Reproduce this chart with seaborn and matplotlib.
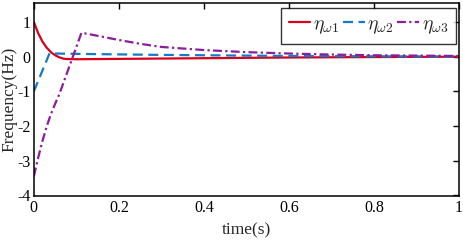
import matplotlib
matplotlib.use("Agg")
import matplotlib.pyplot as plt
import seaborn as sns
import pandas as pd

t_eta1 = [0, 0.01, 0.02, 0.03, 0.04, 0.05, 0.06, 0.07, 0.08, 0.1, 0.15, 0.2, 0.3, 0.4, 0.5, 0.6, 0.7, 0.8, 0.9, 1.0]
v_eta1 = [1.0, 0.68, 0.44, 0.26, 0.13, 0.04, -0.02, -0.06, -0.07, -0.075, -0.07, -0.065, -0.055, -0.045, -0.035, -0.025, -0.018, -0.012, -0.006, -0.002]

t_eta2 = [0, 0.037, 0.05, 0.1, 0.2, 0.3, 0.4, 0.5, 0.6, 0.7, 0.8, 0.9, 1.0]
v_eta2 = [-1.0, 0.1, 0.09, 0.08, 0.065, 0.05, 0.04, 0.03, 0.02, 0.015, 0.01, 0.005, 0.002]

t_eta3 = [0, 0.01, 0.02, 0.03, 0.04, 0.05, 0.06, 0.07, 0.08, 0.09, 0.1, 0.112, 0.15, 0.2, 0.25, 0.3, 0.4, 0.5, 0.6, 0.7, 0.8, 0.9, 1.0]
v_eta3 = [-3.45, -2.92, -2.44, -2.02, -1.66, -1.36, -1.08, -0.74, -0.40, -0.06, 0.28, 0.69, 0.6, 0.48, 0.37, 0.28, 0.19, 0.13, 0.09, 0.06, 0.04, 0.03, 0.02]

labels = [r"$\eta_{\omega 1}$", r"$\eta_{\omega 2}$", r"$\eta_{\omega 3}$"]
colors = ["#D9001B", "#0F7BC9", "#8B1E9A"]
styles = ["-", (0, (4.5, 2.5)), (0, (4, 1.5, 1, 1.5))]
x_ticks = [0, 0.2, 0.4, 0.6, 0.8, 1]
x_ticklabels = ["0", "0.2", "0.4", "0.6", "0.8", "1"]
y_ticks = [-4, -3, -2, -1, 0, 1]

sns.set_style("white")
plt.rcParams["font.family"] = ["Liberation Serif", "DejaVu Serif"]
plt.rcParams["mathtext.fontset"] = "cm"
plt.rcParams["axes.unicode_minus"] = False
plt.rcParams["xtick.direction"] = "in"
plt.rcParams["ytick.direction"] = "in"

fig = plt.figure(figsize=(4.64, 2.4), dpi=100)
ax = fig.add_axes([0.073, 0.183, 0.916, 0.805])

series = [(t_eta1, v_eta1), (t_eta2, v_eta2), (t_eta3, v_eta3)]
for (t, v), lab, c, ls in zip(series, labels, colors, styles):
    df = pd.DataFrame({"t": t, "v": v})
    sns.lineplot(data=df, x="t", y="v", ax=ax, color=c, linestyle=ls,
                 linewidth=1.6, label=lab, estimator=None, sort=False)

ax.set_xlim(0, 1)
ax.set_ylim(-4.02, 1.55)
ax.set_xticks(x_ticks)
ax.set_xticklabels(x_ticklabels)
ax.set_yticks(y_ticks)
ax.tick_params(axis="both", labelsize=11.5, length=4, width=1, top=True, right=True, pad=2.5, colors="black")
ax.set_xlabel("time(s)", fontsize=12.5)
ax.set_ylabel("Frequency(Hz)", fontsize=12.5)
ax.xaxis.set_label_coords(0.5, -0.135)
ax.yaxis.set_label_coords(-0.038, 0.5)
for s in ax.spines.values():
    s.set_color("black")
    s.set_linewidth(1.1)

leg = ax.legend(loc="upper right", ncol=3, fontsize=14, frameon=True, fancybox=False,
                edgecolor="black", handlelength=1.1, handletextpad=0.15, columnspacing=0.2,
                borderpad=0.4, borderaxespad=0, bbox_to_anchor=(0.993, 0.974))
leg.get_frame().set_linewidth(1.0)

fig.savefig("out.png", dpi=100)
